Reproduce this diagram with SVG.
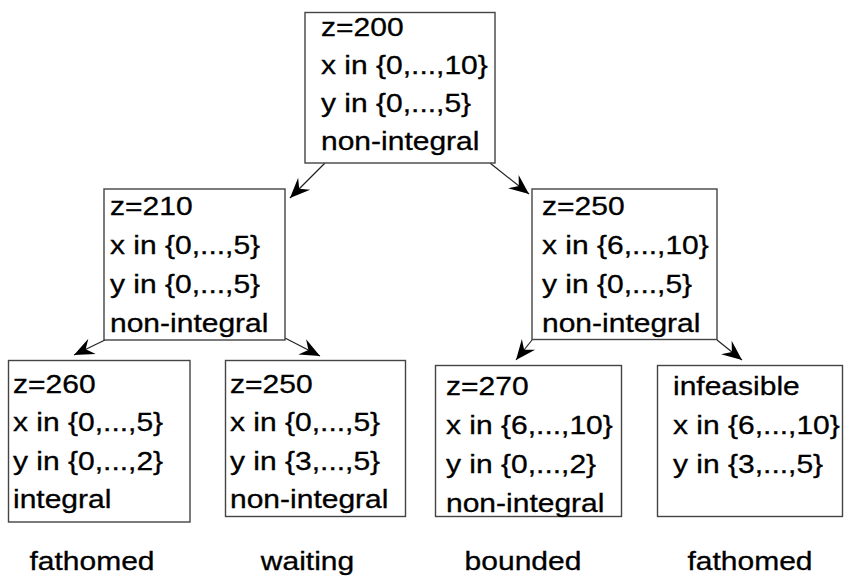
<svg xmlns="http://www.w3.org/2000/svg" width="845" height="576" viewBox="0 0 845 576">
<style>
.box{fill:#fff;stroke:#444;stroke-width:1.4}
.t{font-family:"Liberation Sans",Arial,sans-serif;font-size:25px;fill:#000;stroke:#000;stroke-width:0.3}
.edge{stroke:#222;stroke-width:1.2;fill:none}
</style>
<defs>
<marker id="ah" markerUnits="userSpaceOnUse" markerWidth="24" markerHeight="24" viewBox="-22 -12 24 24" refX="0" refY="0" orient="auto">
<path d="M0,0 L-20,-8.5 L-13,0 L-20,8.5 Z" fill="#000"/>
</marker>
</defs>
<rect width="845" height="576" fill="#fff"/>
<g id="connectors">
<line class="edge" x1="325" y1="163" x2="290" y2="198" marker-end="url(#ah)"/>
<line class="edge" x1="490" y1="163" x2="529" y2="194" marker-end="url(#ah)"/>
<line class="edge" x1="105" y1="340" x2="74" y2="355" marker-end="url(#ah)"/>
<line class="edge" x1="285" y1="338" x2="320" y2="356" marker-end="url(#ah)"/>
<line class="edge" x1="532" y1="340" x2="516" y2="360" marker-end="url(#ah)"/>
<line class="edge" x1="717" y1="340" x2="742" y2="360" marker-end="url(#ah)"/>
</g>
<g id="root">
<rect class="box" x="305" y="12.5" width="190" height="150.5"/>
<g transform="translate(321,0) scale(1.2,1)">
<text class="t" x="0" y="36.5">z=200</text>
<text class="t" x="0" y="74.5">x in {0,...,10}</text>
<text class="t" x="0" y="112.5">y in {0,...,5}</text>
<text class="t" x="0" y="150.5">non-integral</text>
</g>
</g>
<g id="n1">
<rect class="box" x="104" y="189" width="181" height="151"/>
<g transform="translate(110,0) scale(1.2,1)">
<text class="t" x="0" y="215">z=210</text>
<text class="t" x="0" y="254">x in {0,...,5}</text>
<text class="t" x="0" y="293">y in {0,...,5}</text>
<text class="t" x="0" y="332">non-integral</text>
</g>
</g>
<g id="n2">
<rect class="box" x="532" y="189" width="185" height="150.5"/>
<g transform="translate(542,0) scale(1.2,1)">
<text class="t" x="0" y="215">z=250</text>
<text class="t" x="0" y="254">x in {6,...,10}</text>
<text class="t" x="0" y="293">y in {0,...,5}</text>
<text class="t" x="0" y="332">non-integral</text>
</g>
</g>
<g id="n3">
<rect class="box" x="8.5" y="360.5" width="181.5" height="161.5"/>
<g transform="translate(13,0) scale(1.2,1)">
<text class="t" x="0" y="393">z=260</text>
<text class="t" x="0" y="431">x in {0,...,5}</text>
<text class="t" x="0" y="470">y in {0,...,2}</text>
<text class="t" x="0" y="508">integral</text>
</g>
</g>
<g id="n4">
<rect class="box" x="225.5" y="360.5" width="180" height="156"/>
<g transform="translate(230,0) scale(1.2,1)">
<text class="t" x="0" y="393">z=250</text>
<text class="t" x="0" y="431">x in {0,...,5}</text>
<text class="t" x="0" y="470">y in {3,...,5}</text>
<text class="t" x="0" y="508">non-integral</text>
</g>
</g>
<g id="n5">
<rect class="box" x="435.5" y="365.5" width="186" height="151"/>
<g transform="translate(446,0) scale(1.2,1)">
<text class="t" x="0" y="395">z=270</text>
<text class="t" x="0" y="434">x in {6,...,10}</text>
<text class="t" x="0" y="473">y in {0,...,2}</text>
<text class="t" x="0" y="512">non-integral</text>
</g>
</g>
<g id="n6">
<rect class="box" x="657.5" y="365.5" width="185" height="151"/>
<g transform="translate(673,0) scale(1.2,1)">
<text class="t" x="0" y="395">infeasible</text>
<text class="t" x="0" y="434">x in {6,...,10}</text>
<text class="t" x="0" y="473">y in {3,...,5}</text>
</g>
</g>
<g id="captions">
<g transform="translate(92,0) scale(1.2,1)"><text class="t" x="0" y="570" text-anchor="middle">fathomed</text></g>
<g transform="translate(307.5,0) scale(1.2,1)"><text class="t" x="0" y="570" text-anchor="middle">waiting</text></g>
<g transform="translate(523,0) scale(1.2,1)"><text class="t" x="0" y="570" text-anchor="middle">bounded</text></g>
<g transform="translate(750,0) scale(1.2,1)"><text class="t" x="0" y="570" text-anchor="middle">fathomed</text></g>
</g>
</svg>
